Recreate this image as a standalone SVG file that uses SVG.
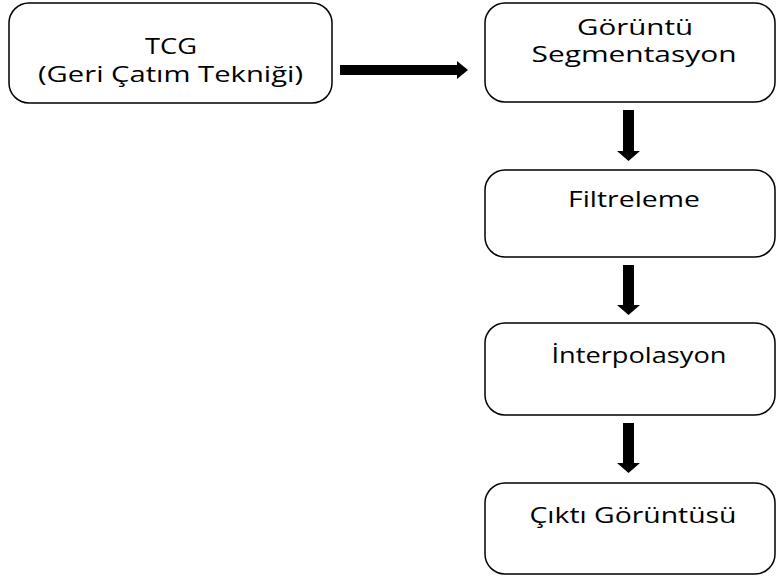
<svg xmlns="http://www.w3.org/2000/svg" width="776" height="576" viewBox="0 0 776 576">
<style>
.box{fill:#fff;stroke:#000;stroke-width:1.5}
.t{font-family:"Open Sans","Liberation Sans",sans-serif;font-size:21px;fill:#000;text-anchor:middle}
.arr{fill:#000}
</style>
<rect width="776" height="576" fill="#fff"/>
<g id="tcg"><rect class="box" x="9" y="3" width="323" height="100" rx="20"/>
<text class="t" x="171" y="54" textLength="52" lengthAdjust="spacingAndGlyphs">TCG</text><text class="t" x="170.5" y="82" textLength="265" lengthAdjust="spacingAndGlyphs">(Geri Çatım Tekniği)</text></g>
<g id="segmentasyon"><rect class="box" x="485" y="3" width="290" height="99" rx="20"/>
<text class="t" x="635" y="35" textLength="116" lengthAdjust="spacingAndGlyphs">Görüntü</text><text class="t" x="634" y="62" textLength="205" lengthAdjust="spacingAndGlyphs">Segmentasyon</text></g>
<g id="filtreleme"><rect class="box" x="485" y="170" width="290" height="87" rx="20"/>
<text class="t" x="634" y="207" textLength="132" lengthAdjust="spacingAndGlyphs">Filtreleme</text></g>
<g id="interpolasyon"><rect class="box" x="485" y="323" width="290" height="92" rx="20"/>
<text class="t" x="639" y="363" textLength="175" lengthAdjust="spacingAndGlyphs">İnterpolasyon</text></g>
<g id="cikti"><rect class="box" x="485" y="483" width="290" height="91" rx="20"/>
<text class="t" x="633" y="523" textLength="207" lengthAdjust="spacingAndGlyphs">Çıktı Görüntüsü</text></g>
<g id="connectors">
<polygon class="arr" points="340,65 457,65 457,61 468,70 457,79 457,75 340,75"/>
<polygon class="arr" points="623,110 634,110 634,151 640,151 628.5,161 617,151 623,151"/>
<polygon class="arr" points="623,265 634,265 634,305 640,305 628.5,315 617,305 623,305"/>
<polygon class="arr" points="623,423 634,423 634,463 640,463 628.5,473 617,463 623,463"/>
</g>
</svg>
